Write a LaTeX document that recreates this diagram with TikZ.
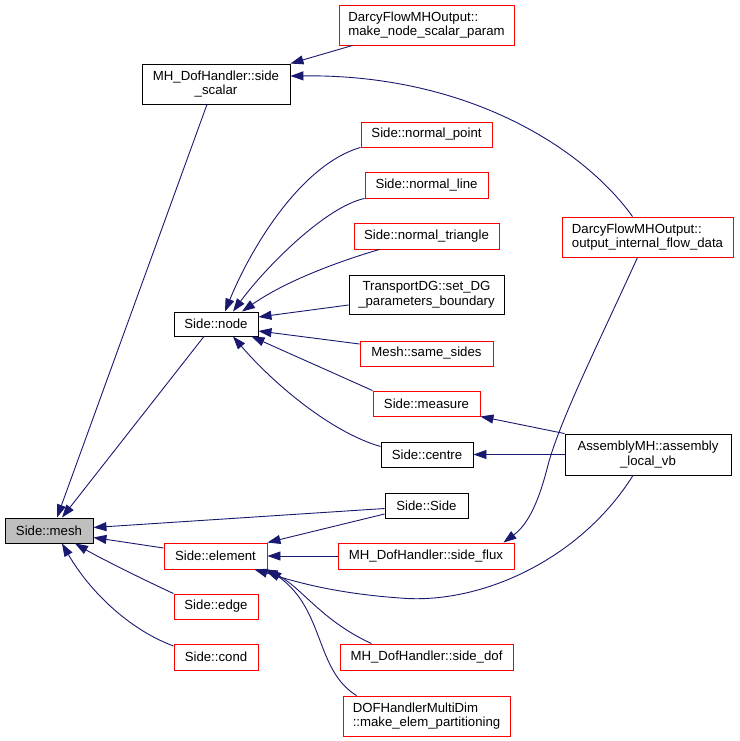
\documentclass[tikz,border=0pt]{standalone}
\usepackage{fontspec}
\setmainfont{Liberation Sans}
\usetikzlibrary{arrows.meta}
\definecolor{edgeblue}{RGB}{25,25,112}
\definecolor{meshgray}{RGB}{191,191,191}
\begin{document}
\begin{tikzpicture}[x=1pt,y=-1pt,
  box/.style={draw=black, line width=0.9pt, inner sep=0pt, align=center,
    font=\fontsize{13.2}{14.7}\selectfont, fill=white},
  redbox/.style={box, draw=red},
  edge/.style={draw=edgeblue, line width=0.9pt, -{Triangle[length=13pt,width=9pt]}}]
\useasboundingbox[fill=white] (0,0) rectangle (739,741);

% nodes
\node[redbox, align=left, minimum width=175pt, minimum height=40pt] (scalarp) at (426.5,25) {DarcyFlowMHOutput::\\make\_node\_scalar\_param};
\node[box, minimum width=148pt, minimum height=40pt] (sscalar) at (216,84) {MH\_DofHandler::side\\\_scalar};
\node[redbox, minimum width=131pt, minimum height=25pt] (npoint) at (426.5,134.5) {Side::normal\_point};
\node[redbox, minimum width=123pt, minimum height=26pt] (nline) at (426.5,185) {Side::normal\_line};
\node[redbox, minimum width=145pt, minimum height=26pt] (ntri) at (426.5,236) {Side::normal\_triangle};
\node[box, minimum width=155pt, minimum height=39pt] (tdg) at (426.5,294.5) {TransportDG::set\_DG\\\_parameters\_boundary};
\node[redbox, minimum width=133pt, minimum height=25pt] (same) at (426.5,353.5) {Mesh::same\_sides};
\node[redbox, minimum width=107pt, minimum height=25pt] (measure) at (426.5,403.5) {Side::measure};
\node[box, minimum width=92pt, minimum height=25pt] (centre) at (427,454.5) {Side::centre};
\node[box, minimum width=83pt, minimum height=25pt] (sside) at (426.5,505.5) {Side::Side};
\node[redbox, minimum width=176pt, minimum height=26pt] (sflux) at (426,556) {MH\_DofHandler::side\_flux};
\node[redbox, minimum width=173pt, minimum height=26pt] (sdof) at (426.5,657) {MH\_DofHandler::side\_dof};
\node[redbox, align=left, minimum width=167pt, minimum height=40pt] (part) at (426.5,716) {DOFHandlerMultiDim\\::make\_elem\_partitioning};
\node[redbox, align=left, minimum width=171pt, minimum height=40pt] (oifd) at (647.5,237) {DarcyFlowMHOutput::\\output\_internal\_flow\_data};
\node[box, minimum width=166pt, minimum height=41pt] (amh) at (648,454.5) {AssemblyMH::assembly\\\_local\_vb};
\node[box, minimum width=84pt, minimum height=24pt] (snode) at (216,324) {Side::node};
\node[box, fill=meshgray, minimum width=88pt, minimum height=25pt] (mesh) at (49,530.5) {Side::mesh};
\node[redbox, minimum width=103pt, minimum height=26pt] (elem) at (215.5,556) {Side::element};
\node[redbox, minimum width=84pt, minimum height=25pt] (edge) at (216,606.5) {Side::edge};
\node[redbox, minimum width=84pt, minimum height=26pt] (cond) at (216,657) {Side::cond};

% edges
\draw[edge] ([xshift=14pt]scalarp.south west) -- (sscalar.north east);
\draw[edge] ([xshift=-15pt]oifd.north) .. controls (585,150) and (470,74) .. ([yshift=8pt]sscalar.east);
\draw[edge] ([xshift=-9pt]sscalar.south) -- ([xshift=8pt]mesh.north);
\draw[edge] ([xshift=-12pt]snode.south) -- ([xshift=13pt]mesh.north);

\draw[edge] (npoint.south west) .. controls (300,165) and (250,250) .. ([xshift=9pt]snode.north);
\draw[edge] (nline.south west) .. controls (325,207) and (265,268) .. ([xshift=17pt]snode.north);
\draw[edge] ([xshift=26pt]ntri.south west) .. controls (350,258) and (290,278) .. ([xshift=26pt]snode.north);
\draw[edge] ([yshift=-10.5pt]tdg.west) -- ([yshift=7pt]snode.east);
\draw[edge] ([yshift=9.5pt]same.west) -- ([yshift=-7pt]snode.east);
\draw[edge] (measure.north west) -- ([xshift=-7pt]snode.south east);
\draw[edge] ([yshift=8pt]centre.west) .. controls (330,432) and (272,382) .. ([xshift=17pt]snode.south);

\draw[edge] ([yshift=-3pt]sside.west) -- ([yshift=3pt]mesh.east);
\draw[edge] ([yshift=-8.5pt]sside.west) -- (elem.north east);
\draw[edge] ([yshift=8pt]elem.west) -- ([yshift=-7pt]mesh.east);
\draw[edge] (edge.north west) .. controls (140,578) and (100,558) .. ([xshift=26pt]mesh.south);
\draw[edge] ([yshift=11pt]cond.west) .. controls (130,630) and (90,592) .. ([xshift=13pt]mesh.south);

\draw[edge] (amh.north west) -- (measure.south east);
\draw[edge] (amh.west) -- (centre.east);
\draw[edge] (sflux.west) -- (elem.east);
\draw[edge] ([xshift=-10pt]oifd.south) .. controls (600,340) and (560,420) .. (548,465)
  .. controls (538,505) and (527,525) .. ([xshift=-11pt]sflux.north east);
\draw[edge] ([xshift=-15pt]amh.south) .. controls (580,560) and (480,605) .. (400,598)
  .. controls (330,593) and (290,580) .. ([xshift=-13pt]elem.south east);
\draw[edge] ([xshift=32pt]sdof.north west) .. controls (320,620) and (300,585) .. ([xshift=-3pt]elem.south east);
\draw[edge] ([xshift=14pt]part.north west) .. controls (315,670) and (325,610) .. ([xshift=1pt]elem.south east);
\end{tikzpicture}
\end{document}
